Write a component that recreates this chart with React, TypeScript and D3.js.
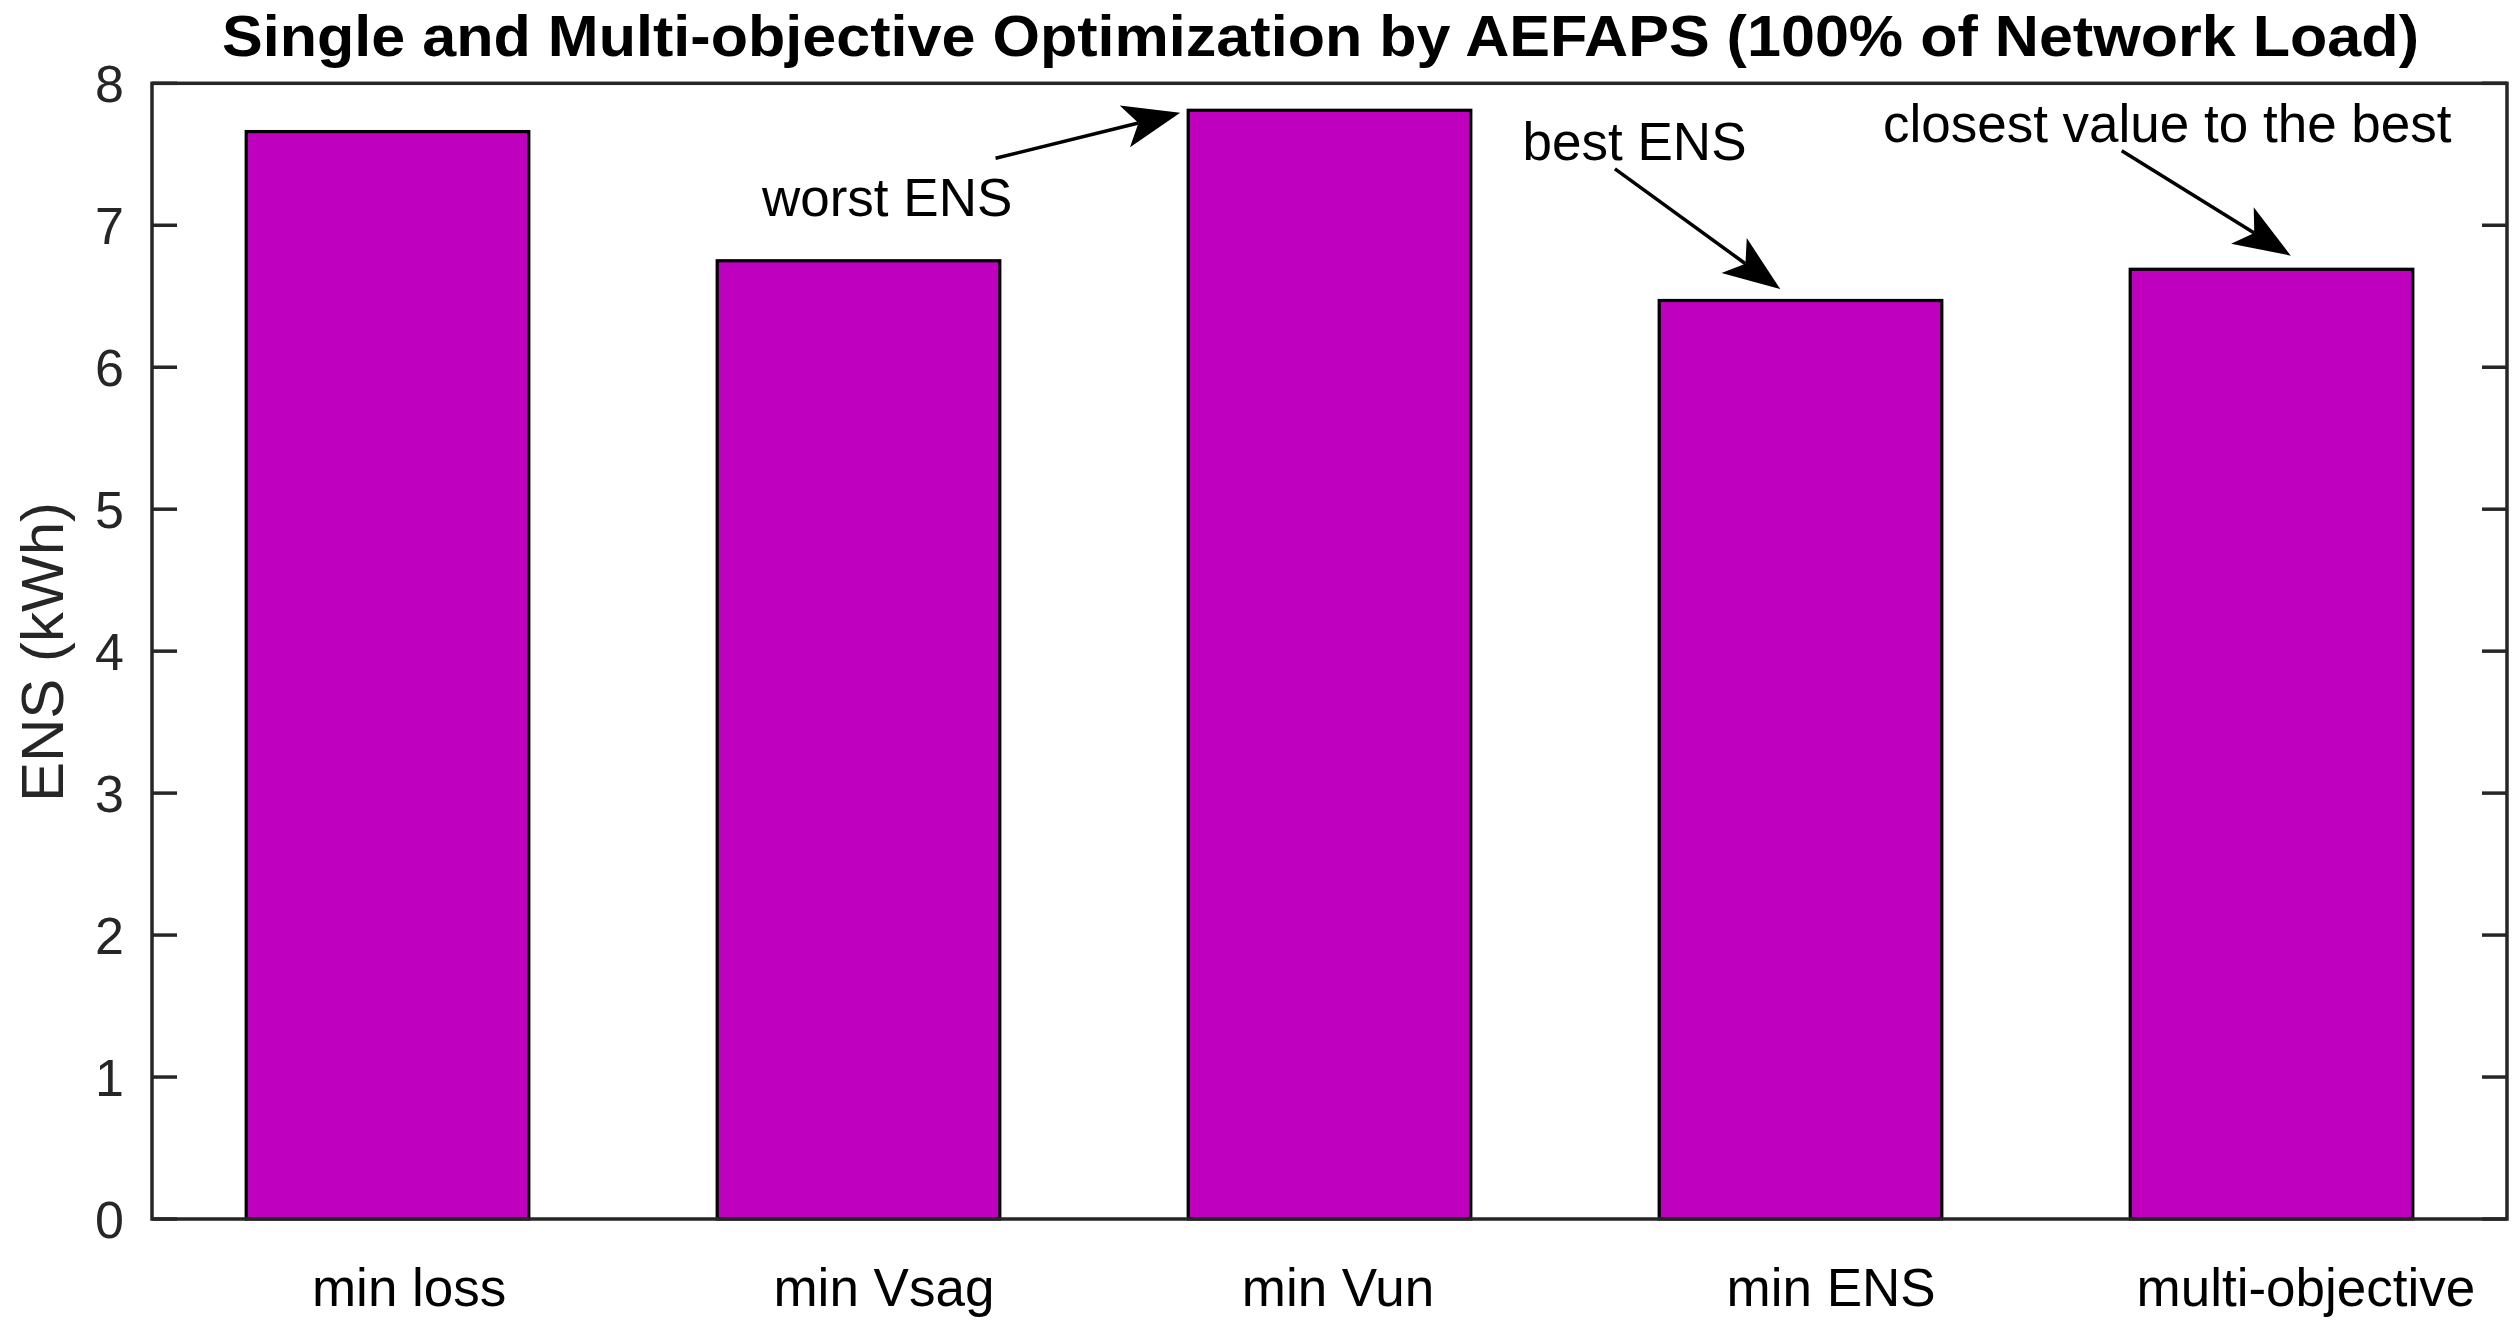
import React from "react";
import * as d3 from "d3";

// ENS per optimization objective (kWh)
const categories = ["min loss", "min Vsag", "min Vun", "min ENS", "multi-objective"];
const ensValues = [7.66, 6.75, 7.81, 6.47, 6.69];
const yTicks = [0, 1, 2, 3, 4, 5, 6, 7, 8];
// label centres as placed in the original (x in bar units)
const labelX = [1.046, 2.054, 3.018, 4.065, 5.073];

// annotations in data coordinates: text anchor, arrow start, arrow tip
const notes = [
  { text: "worst ENS", tx: 1.795, ty: 7.065, x0: 2.291, y0: 7.472, x1: 2.683, y1: 7.793 },
  { text: "best ENS", tx: 3.41, ty: 7.46, x0: 3.606, y0: 7.397, x1: 3.957, y1: 6.551 },
  { text: "closest value to the best", tx: 4.175, ty: 7.585, x0: 4.682, y0: 7.525, x1: 5.041, y1: 6.786 },
];

const W = 2518;
const H = 1331;
const left = 152;
const right = 2507;
const top = 83.3;
const bottom = 1219;
const font = "'Liberation Sans', Arial, Helvetica, sans-serif";
const axisColor = "#262626";
const barColor = "#bf00bf";

const arrowHead = (x0: number, y0: number, x1: number, y1: number) => {
  const len = Math.hypot(x1 - x0, y1 - y0);
  const ux = (x1 - x0) / len;
  const uy = (y1 - y0) / len;
  const nx = -uy;
  const ny = ux;
  const hl = 57;
  const hw = 21.5;
  const notch = 43;
  const pts = [
    [x1, y1],
    [x1 - ux * hl + nx * hw, y1 - uy * hl + ny * hw],
    [x1 - ux * notch, y1 - uy * notch],
    [x1 - ux * hl - nx * hw, y1 - uy * hl - ny * hw],
  ];
  return {
    points: pts.map((p) => p.join(",")).join(" "),
    lx: x1 - ux * notch,
    ly: y1 - uy * notch,
  };
};

const App = () => {
  const x = d3.scaleLinear().domain([0.5, categories.length + 0.5]).range([left, right]);
  const y = d3.scaleLinear().domain([0, 8]).range([bottom, top]);
  const barW = 0.6;

  return (
    <div>
      <style>{"body{margin:0;background:#fff}"}</style>
      <svg width={W} height={H} style={{ display: "block" }} fontFamily={font}>
        <rect width={W} height={H} fill="#fff" />

        {/* title */}
        <text
          x={1320.5}
          y={56}
          textAnchor="middle"
          fontSize={58}
          fontWeight="bold"
          textLength={2197}
          lengthAdjust="spacingAndGlyphs"
          fill="#000"
        >
          Single and Multi-objective Optimization by AEFAPS (100% of Network Load)
        </text>

        {/* bars */}
        {ensValues.map((v, i) => (
          <rect
            key={categories[i]}
            x={x(i + 1 - barW / 2)}
            y={y(v)}
            width={x(i + 1 + barW / 2) - x(i + 1 - barW / 2)}
            height={y(0) - y(v)}
            fill={barColor}
            stroke="#000"
            strokeWidth={3.2}
          />
        ))}

        {/* axes box */}
        <rect
          x={left}
          y={top}
          width={right - left}
          height={bottom - top}
          fill="none"
          stroke={axisColor}
          strokeWidth={3.5}
        />
        {yTicks.map((t) => (
          <g key={t}>
            <line x1={left} x2={left + 25} y1={y(t)} y2={y(t)} stroke={axisColor} strokeWidth={3.5} />
            <line x1={right} x2={right - 25} y1={y(t)} y2={y(t)} stroke={axisColor} strokeWidth={3.5} />
            <text
              x={left - 28}
              y={y(t)}
              dy="0.36em"
              textAnchor="end"
              fontSize={52}
              fill={axisColor}
            >
              {t}
            </text>
          </g>
        ))}

        {/* category labels */}
        {categories.map((c, i) => (
          <text key={c} x={x(labelX[i])} y={1306} textAnchor="middle" fontSize={53} fill="#000">
            {c}
          </text>
        ))}

        {/* y label */}
        <text
          transform={`translate(63,652) rotate(-90)`}
          textAnchor="middle"
          fontSize={60}
          fill={axisColor}
        >
          ENS (kWh)
        </text>

        {/* annotations */}
        {notes.map((n) => {
          const sx = x(n.x0);
          const sy = y(n.y0);
          const ex = x(n.x1);
          const ey = y(n.y1);
          const head = arrowHead(sx, sy, ex, ey);
          return (
            <g key={n.text}>
              <text x={x(n.tx)} y={y(n.ty)} fontSize={53} fill="#000">
                {n.text}
              </text>
              <line x1={sx} y1={sy} x2={head.lx} y2={head.ly} stroke="#000" strokeWidth={3.5} />
              <polygon points={head.points} fill="#000" />
            </g>
          );
        })}
      </svg>
    </div>
  );
};

export default App;
